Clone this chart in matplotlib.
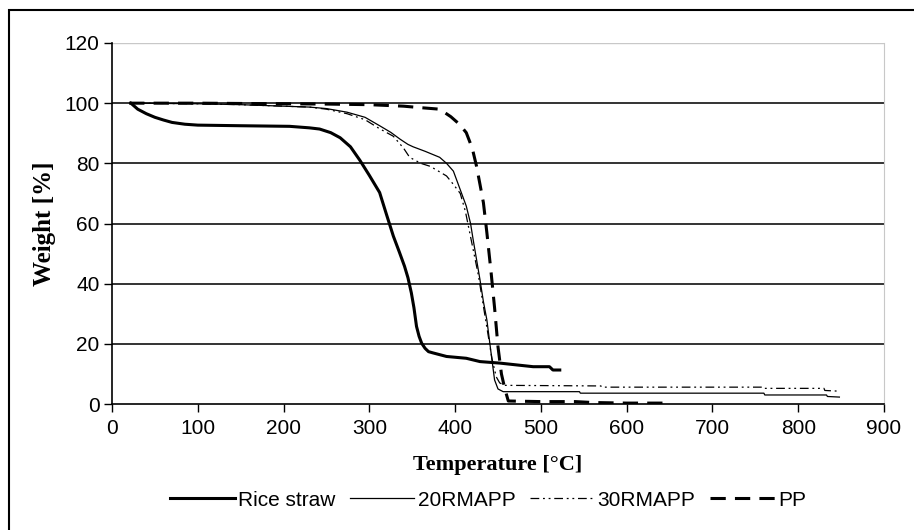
import matplotlib
matplotlib.use("Agg")
from matplotlib import pyplot as plt
from matplotlib.patches import Rectangle

plt.rcParams["font.family"] = ["Liberation Sans", "DejaVu Sans"]

# Rice straw
rice_t = [22, 30, 40, 50, 60, 70, 85, 100, 150, 207, 230, 242, 255, 266, 278, 289,
          300, 312, 320, 328, 335, 341, 345, 349, 352, 355, 358, 361, 365, 369, 374,
          390, 413, 429, 452, 491, 510, 514, 522]
rice_w = [100, 98, 96.5, 95.3, 94.4, 93.6, 93, 92.7, 92.5, 92.3, 91.8, 91.4, 90.2, 88.5,
          85.5, 81, 76, 70.3, 63, 55.8, 50.5, 45.8, 42, 36.9, 32, 25.8, 22.5, 20.2,
          18.5, 17.4, 17, 15.8, 15.2, 14.1, 13.6, 12.4, 12.4, 11.3, 11.3]

# 20RMAPP
r20_t = [22, 100, 150, 200, 230, 250, 274, 295, 312, 325, 336, 345, 351, 365, 382,
         390, 398, 405, 413, 418, 421, 425, 429, 433, 437, 441, 446, 450, 456,
         545, 546, 760, 761, 833, 834, 848]
r20_w = [100, 99.8, 99.5, 99, 98.7, 98.2, 97, 95.3, 92.5, 90.3, 88, 86.3, 85.5, 84,
         82, 80, 77.4, 72, 65.8, 60, 54.7, 48, 41.3, 34, 28, 19, 8, 5, 4.1,
         4.1, 3.6, 3.6, 3.0, 3.0, 2.5, 2.3]

# 30RMAPP
r30_t = [22, 100, 150, 200, 230, 250, 274, 295, 312, 328, 340, 347, 360, 371, 380,
         390, 398, 406, 412, 417, 422, 427, 431, 435, 439, 443, 448, 452, 458,
         570, 571, 760, 761, 830, 831, 845]
r30_w = [100, 99.8, 99.5, 99, 98.7, 98, 96.5, 94.5, 91.5, 89, 85, 82, 80, 79, 77.5,
         75.8, 73, 70, 64, 57, 50, 43, 36, 29, 22, 15, 9, 7, 6.2,
         6, 5.6, 5.6, 5.2, 5.2, 4.5, 4.3]

# PP
pp_t = [20, 100, 200, 250, 300, 340, 360, 382, 395, 405, 413, 420, 425, 429, 433,
        437, 442, 446, 450, 454, 458, 462, 500, 540, 560, 600, 650]
pp_w = [100, 100, 99.8, 99.7, 99.5, 99, 98.5, 98, 95.5, 93, 90.2, 85, 79, 73, 66.9,
        57, 43.6, 32, 19, 10, 5, 1, 0.8, 0.8, 0.5, 0.3, 0.3]

fig = plt.figure(figsize=(9.14, 5.30), dpi=100)
ax = fig.add_axes([112 / 914, 1 - 404 / 530, 772 / 914, 361 / 530])

for y in [20, 40, 60, 80, 100]:
    ax.axhline(y, color="#333333", lw=1.4, zorder=1)
ax.axhline(120, color="#c8c8c8", lw=1.0, zorder=1)

ax.plot(rice_t, rice_w, color="black", lw=2.2, label="Rice straw", zorder=3)
ax.plot(r20_t, r20_w, color="black", lw=0.9, label="20RMAPP", zorder=3)
ax.plot(r30_t, r30_w, color="black", lw=0.9, dashes=(7, 3, 1.5, 3, 1.5, 3),
        label="30RMAPP", zorder=3)
ax.plot(pp_t, pp_w, color="black", lw=2.2, dashes=(5, 3), label="PP", zorder=4)

ax.set_xlim(0, 900)
ax.set_ylim(0, 120)
ax.set_xticks(range(0, 901, 100))
ax.set_yticks(range(0, 121, 20))
ax.tick_params(labelsize=15, direction="out", length=6, width=1)
ax.tick_params(axis="x", pad=5)
ax.tick_params(axis="y", pad=3)
ax.spines["top"].set_visible(False)
ax.spines["right"].set_color("#c8c8c8")
ax.spines["left"].set_linewidth(1.2)
ax.spines["bottom"].set_linewidth(1.2)

ax.set_xlabel("Temperature [°C]", fontsize=16, fontweight="bold",
              family="Liberation Serif", labelpad=12)
ax.set_ylabel("Weight [%]", fontsize=18, fontweight="bold",
              family="Liberation Serif", labelpad=6)

fig.legend(loc="center", bbox_to_anchor=(488 / 914, 1 - 500 / 530), ncol=4,
           frameon=False, fontsize=15, handlelength=3.1, handletextpad=0.15,
           columnspacing=0.7)

fig.patches.append(Rectangle((9 / 914, -0.1), 1.2, 1 - 10 / 530 + 0.1,
                             transform=fig.transFigure, fill=False,
                             edgecolor="black", lw=1.5))

fig.savefig("out.png", dpi=100)
